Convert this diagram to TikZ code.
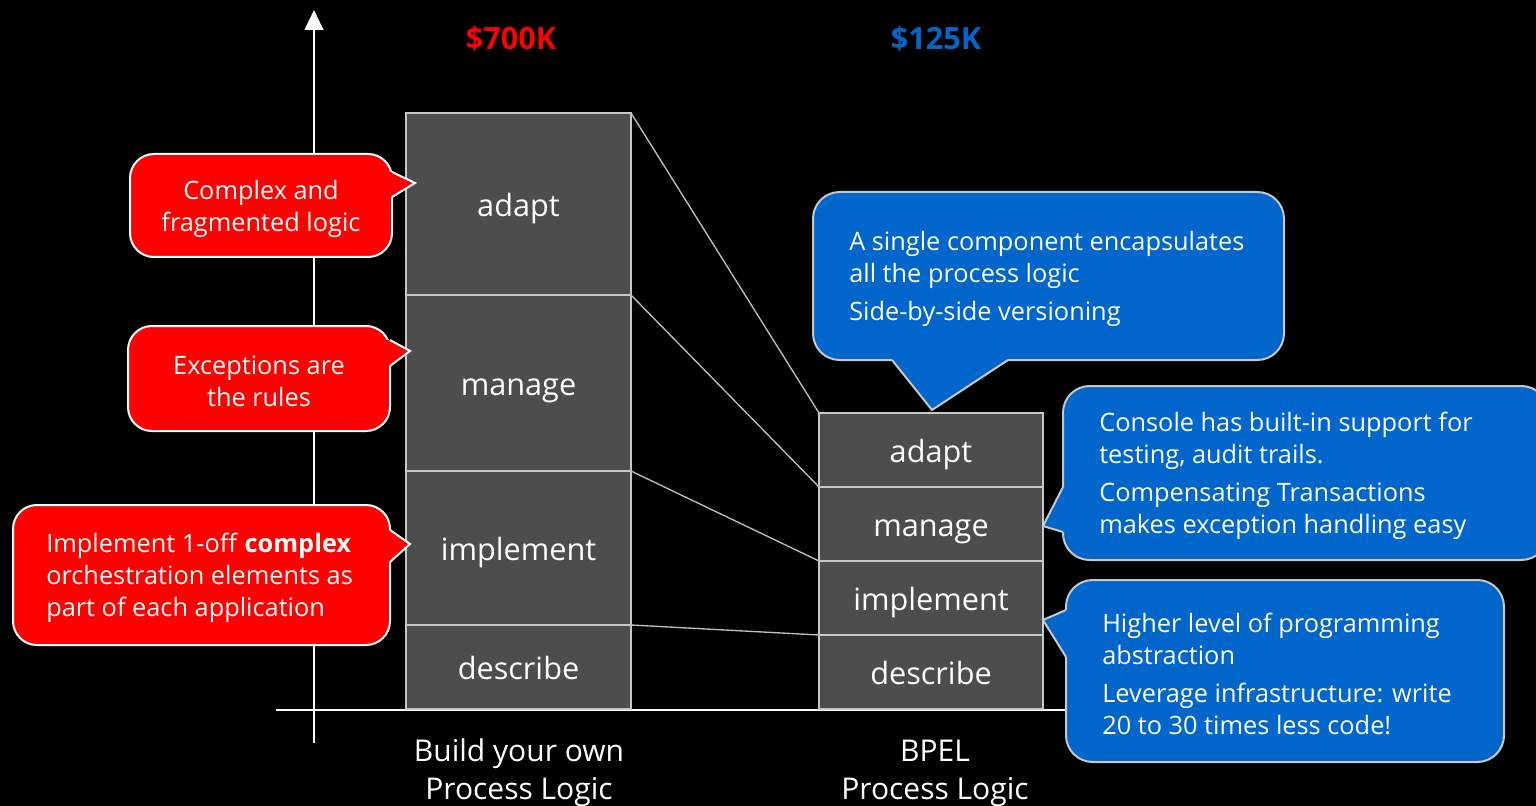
\documentclass[tikz,border=0pt]{standalone}
\usepackage{fontspec}
\setmainfont{Open Sans}
\usetikzlibrary{arrows.meta}
\definecolor{blockgray}{HTML}{4D4D4D}
\definecolor{bblue}{HTML}{0066CC}
\definecolor{rred}{HTML}{FF0000}
\definecolor{edgegray}{HTML}{C8C8C8}
\definecolor{conngray}{HTML}{BFBFBF}
\tikzset{
  blockbox/.style={draw=edgegray, fill=blockgray, line width=1.5pt, inner sep=0pt, outer sep=0pt,
    text=white, font=\fontsize{23}{28}\selectfont, text height=24pt, text depth=5pt},
  conn/.style={draw=conngray, line width=1pt},
  axisline/.style={draw=white, line width=1.5pt},
  redcall/.style={fill=rred, draw=white, line width=1.5pt, rounded corners=18pt},
  bluecall/.style={fill=bblue, draw=edgegray, line width=1.5pt, rounded corners=20pt},
  ctext/.style={text=white, font=\fontsize{19}{24}\selectfont, inner sep=0pt},
  bottomlabel/.style={text=white, font=\fontsize{22.5}{28.5}\selectfont, align=center},
  costlabel/.style={font=\fontsize{23}{28}\selectfont\bfseries}
}
\begin{document}
\begin{tikzpicture}[x=0.75pt,y=-0.75pt]
\fill[black] (0,0) rectangle (1536,806);
\useasboundingbox (0,0) rectangle (1536,806);

% axes
\coordinate (yb) at (314,743);
\coordinate (yt) at (314,10);
\coordinate (xl) at (276,710);
\coordinate (xr) at (1100,710);
\draw[axisline] (xl) -- (xr);
\draw[axisline, -{Triangle[width=14pt,length=15pt]}] (yb) -- (yt);

% cost labels
\node[costlabel, text=rred] (c700) at (511,39) {\$700K};
\node[costlabel, text=bblue] (c125) at (936,39) {\$125K};

% left stack
\node[blockbox, minimum width=225*0.75pt, minimum height=182*0.75pt] (LA) at (518.5,204) {adapt};
\node[blockbox, minimum width=225*0.75pt, minimum height=176*0.75pt] (LM) at (518.5,383) {manage};
\node[blockbox, minimum width=225*0.75pt, minimum height=154*0.75pt] (LI) at (518.5,548) {implement};
\node[blockbox, minimum width=225*0.75pt, minimum height=84*0.75pt] (LD) at (518.5,667) {describe};

% right stack
\node[blockbox, minimum width=224*0.75pt, minimum height=74*0.75pt] (RA) at (931,450) {adapt};
\node[blockbox, minimum width=224*0.75pt, minimum height=74*0.75pt] (RM) at (931,524) {manage};
\node[blockbox, minimum width=224*0.75pt, minimum height=74*0.75pt] (RI) at (931,598) {implement};
\node[blockbox, minimum width=224*0.75pt, minimum height=74*0.75pt] (RD) at (931,672) {describe};

% connectors
\draw[conn] (LA.north east) -- (RA.north west);
\draw[conn] (LM.north east) -- (RM.north west);
\draw[conn] (LI.north east) -- (RI.north west);
\draw[conn] (LD.north east) -- (RD.north west);

% bottom labels
\node[bottomlabel] (bl1) at (519,773) {Build your own\\Process Logic};
\node[bottomlabel] (bl2) at (935,773) {BPEL\\Process Logic};

% red callout 1
\path[redcall] (130,154) rectangle (392,257);
\fill[rred] (388,172) -- (392,172) -- (415,183) -- (392,197) -- (388,197) -- cycle;
\draw[white, line width=1.5pt, line join=miter] (392,172) -- (415,183) -- (392,197);
\node[ctext, align=center] (t1) at (261,209) {Complex and\\fragmented logic};

% red callout 2
\path[redcall] (128,326) rectangle (390,431);
\fill[rred] (386,340) -- (390,340) -- (410,351) -- (390,366) -- (386,366) -- cycle;
\draw[white, line width=1.5pt] (390,340) -- (410,351) -- (390,366);
\node[ctext, align=center] (t2) at (259,381) {Exceptions are\\the rules};

% red callout 3
\path[redcall] (13,505) rectangle (390,645);
\fill[rred] (386,530) -- (390,530) -- (410,544) -- (390,562) -- (386,562) -- cycle;
\draw[white, line width=1.5pt] (390,530) -- (410,544) -- (390,562);
\node[ctext, align=left, anchor=west] (t3) at (46,578) {Implement 1-off \textbf{complex}\\orchestration elements as\\part of each application};

% blue callout 1
\path[bluecall] (813,192) rectangle (1284,360);
\fill[bblue] (892,356) -- (892,360) -- (932,410) -- (1008,360) -- (1008,356) -- cycle;
\draw[edgegray, line width=1.5pt] (892,360) -- (932,410) -- (1008,360);
\node[ctext, align=left, anchor=west] (t4) at (849,279) {A single component encapsulates\\all the process logic\\[4.5pt]Side-by-side versioning};

% blue callout 2
\path[bluecall] (1063,386) rectangle (1548,560);
\fill[bblue] (1067,487) -- (1063,487) -- (1043,526) -- (1063,532) -- (1067,532) -- cycle;
\draw[edgegray, line width=1.5pt] (1063,487) -- (1043,526) -- (1063,532);
\node[ctext, align=left, anchor=west] (t5) at (1099,476) {Console has built-in support for\\testing, audit trails.\\[4.5pt]Compensating Transactions\\makes exception handling easy};

% blue callout 3
\path[bluecall] (1066,580) rectangle (1504,762);
\fill[bblue] (1070,610) -- (1066,610) -- (1043,620) -- (1066,657) -- (1070,657) -- cycle;
\draw[edgegray, line width=1.5pt] (1066,610) -- (1043,620) -- (1066,657);
\node[ctext, align=left, anchor=west] (t6) at (1102,673.5) {Higher level of programming\\abstraction\\[4.5pt]Leverage infrastructure: write\\20 to 30 times less code!};
\end{tikzpicture}
\end{document}
